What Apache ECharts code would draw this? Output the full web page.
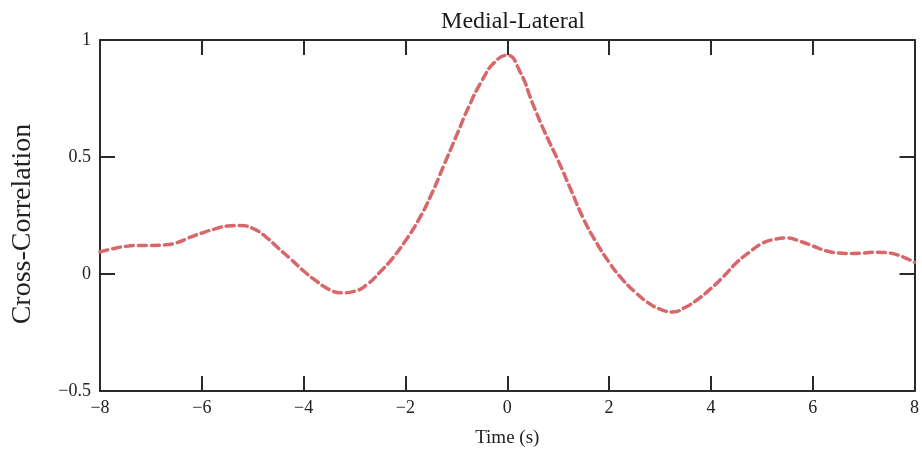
<!DOCTYPE html>
<html>
<head>
<meta charset="utf-8">
<script src="https://cdn.jsdelivr.net/npm/echarts@6/dist/echarts.min.js"></script>
<style>
  html, body { margin: 0; padding: 0; background: #fff; }
  #chart { width: 922px; height: 456px; }
</style>
</head>
<body>
<div id="chart"></div>
<script>
// Lag times (s) and cross-correlation coefficients
var lagTimes = [-8, -7.75, -7.5, -7.25, -7, -6.75, -6.5, -6.25, -6, -5.75, -5.5, -5.25, -5, -4.75, -4.5, -4.25,
  -4, -3.75, -3.5, -3.25, -3, -2.75, -2.5, -2.25, -2, -1.75, -1.5, -1.25, -1, -0.75, -0.5, -0.25,
  0, 0.25, 0.5, 0.75, 1, 1.25, 1.5, 1.75, 2, 2.25, 2.5, 2.75, 3, 3.25, 3.5, 3.75,
  4, 4.25, 4.5, 4.75, 5, 5.25, 5.5, 5.75, 6, 6.25, 6.5, 6.75, 7, 7.25, 7.5, 7.75, 8];
var crossCorr = [0.095, 0.108, 0.118, 0.122, 0.122, 0.124, 0.133, 0.155, 0.175, 0.192, 0.205, 0.207, 0.195, 0.160, 0.111, 0.063,
  0.013, -0.030, -0.066, -0.080, -0.074, -0.044, 0.008, 0.068, 0.142, 0.228, 0.335, 0.462, 0.590, 0.718, 0.825, 0.905,
  0.935, 0.865, 0.728, 0.600, 0.485, 0.360, 0.235, 0.135, 0.050, -0.020, -0.075, -0.120, -0.150, -0.162, -0.142, -0.107,
  -0.062, -0.010, 0.048, 0.092, 0.130, 0.148, 0.154, 0.140, 0.120, 0.100, 0.090, 0.088, 0.090, 0.093, 0.090, 0.075, 0.050];

var titleText = 'Medial-Lateral';
var xName = 'Time (s)';
var yName = 'Cross-Correlation';

var points = lagTimes.map(function (t, i) { return [t, crossCorr[i]]; });

function minusSign(v) { return String(v).replace('-', '\u2212'); }

var serif = 'Liberation Serif';
var ink = '#2a2a2a';

var chart = echarts.init(document.getElementById('chart'), null, { renderer: 'canvas' });

var xBase = { type: 'value', min: -8, max: 8, interval: 2 };
var yBase = { type: 'value', min: -0.5, max: 1, interval: 0.5 };

chart.setOption({
  animation: false,
  backgroundColor: '#ffffff',
  title: {
    text: titleText,
    left: 508, top: 5, textAlign: 'center',
    textStyle: { fontFamily: serif, fontSize: 24, fontWeight: 'normal', color: '#1a1a1a' }
  },
  // vertical axis title, placed beside the tick labels
  graphic: [{
    type: 'text',
    x: 23, y: 224,
    rotation: Math.PI / 2,
    style: {
      text: yName,
      font: '28px "Liberation Serif"',
      fill: '#222',
      align: 'center',
      verticalAlign: 'middle'
    }
  }],
  grid: { left: 100, right: 7, top: 40, bottom: 65 },
  xAxis: [
    Object.assign({}, xBase, {
      position: 'bottom',
      name: xName, nameLocation: 'middle', nameGap: 38,
      nameTextStyle: { fontFamily: serif, fontSize: 19, color: '#222' },
      axisLine: { show: true, onZero: false, lineStyle: { color: ink, width: 2 } },
      axisTick: { show: true, inside: true, length: 15, lineStyle: { color: ink, width: 2 } },
      axisLabel: { fontFamily: serif, fontSize: 18, color: '#222', margin: 8, formatter: minusSign },
      splitLine: { show: false }
    }),
    Object.assign({}, xBase, {
      position: 'top',
      axisLine: { show: true, onZero: false, lineStyle: { color: ink, width: 2 } },
      axisTick: { show: true, inside: true, length: 15, lineStyle: { color: ink, width: 2 } },
      axisLabel: { show: false },
      splitLine: { show: false }
    })
  ],
  yAxis: [
    Object.assign({}, yBase, {
      position: 'left',
      axisLine: { show: true, onZero: false, lineStyle: { color: ink, width: 2 } },
      axisTick: { show: true, inside: true, length: 15, lineStyle: { color: ink, width: 2 } },
      axisLabel: { fontFamily: serif, fontSize: 18, color: '#222', margin: 9, formatter: minusSign },
      splitLine: { show: false }
    }),
    Object.assign({}, yBase, {
      position: 'right',
      axisLine: { show: true, onZero: false, lineStyle: { color: ink, width: 2 } },
      axisTick: { show: true, inside: true, length: 15, lineStyle: { color: ink, width: 2 } },
      axisLabel: { show: false },
      splitLine: { show: false }
    })
  ],
  series: [{
    type: 'line',
    xAxisIndex: 0, yAxisIndex: 0,
    data: points,
    smooth: true,
    showSymbol: false,
    lineStyle: { color: '#d8676a', width: 3.5, type: [8, 5], cap: 'round' }
  }]
});
</script>
</body>
</html>
